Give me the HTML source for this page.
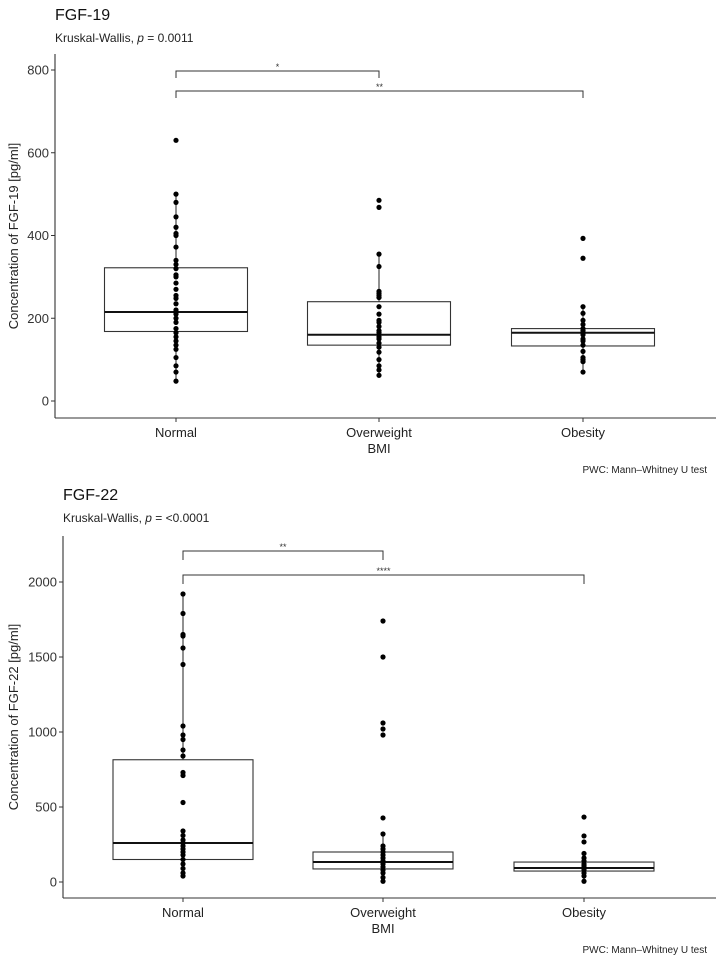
<!DOCTYPE html>
<html><head><meta charset="utf-8">
<style>
html,body{margin:0;padding:0;background:#fff;}
svg{display:block;font-family:"Liberation Sans",Arial,sans-serif;}
</style></head>
<body>
<svg id="chart" width="716" height="962" viewBox="0 0 716 962" xmlns="http://www.w3.org/2000/svg"></svg>
<script>
const categories = ["Normal","Overweight","Obesity"];
// FGF-19
const fgf19Points = [
 [630,500,480,445,420,405,400,372,340,330,320,305,300,285,270,255,248,235,220,215,210,200,190,175,165,155,145,135,125,105,85,70,48],
 [485,468,355,325,265,260,255,250,228,210,195,190,180,170,165,155,150,140,130,118,100,85,75,62],
 [393,345,228,212,195,185,175,170,165,160,150,145,135,120,105,100,95,70]
];
const fgf19Q1 = [168,135,133];
const fgf19Median = [215,160,165];
const fgf19Q3 = [322,240,175];
const fgf19WhiskerLo = [48,62,70];
const fgf19WhiskerHi = [500,355,228];
const fgf19Ticks = [0,200,400,600,800];
// FGF-22
const fgf22Points = [
 [1920,1790,1650,1640,1560,1450,1040,980,950,880,840,730,710,530,340,310,280,260,240,220,200,180,150,120,90,60,40],
 [1740,1500,1060,1020,980,427,320,240,220,200,180,160,140,120,100,80,60,30,5],
 [433,307,267,190,160,140,120,110,100,90,80,60,40,5]
];
const fgf22Q1 = [150,87,73];
const fgf22Median = [260,133,93];
const fgf22Q3 = [815,200,133];
const fgf22WhiskerLo = [40,5,5];
const fgf22WhiskerHi = [1920,320,190];
const fgf22Ticks = [0,500,1000,1500,2000];

const svg = document.getElementById('chart');
const NS = 'http://www.w3.org/2000/svg';
function mk(tag, attrs, parent){
  const e = document.createElementNS(NS, tag);
  for (const k in attrs) e.setAttribute(k, attrs[k]);
  (parent||svg).appendChild(e);
  return e;
}
function txt(s, attrs, parent){ const e = mk('text', attrs, parent); e.textContent = s; return e; }

function panel(cfg){
  const g = mk('g', {});
  
  
  const y = v => cfg.y0 - v * cfg.k;
  const x = i => cfg.xs[i];
  const t = txt(cfg.title, {x: cfg.left, y: cfg.top, 'font-size': 16, fill: '#111'}, g);
  
  
  const st = mk('text', {x: cfg.left, y: cfg.top + 22, 'font-size': 12, fill: '#222'}, g);
  
  
  st.innerHTML = 'Kruskal-Wallis, <tspan font-style="italic">p</tspan> = ' + cfg.p;
  const ax = mk('line', {x1: cfg.axX, y1: cfg.axTop, x2: cfg.axX, y2: cfg.axBot, stroke: '#333', 'stroke-width': 1.1}, g);
  
  
  const bx = mk('line', {x1: cfg.axX, y1: cfg.axBot, x2: 716, y2: cfg.axBot, stroke: '#333', 'stroke-width': 1.1}, g);
  
  
  cfg.ticks.forEach(tv => {
    mk('line', {x1: cfg.axX - 4, x2: cfg.axX, y1: y(tv), y2: y(tv), stroke: '#333'}, g);
    const tl = txt(String(tv), {x: cfg.axX - 6, y: y(tv) + 4.5, 'font-size': 13, 'text-anchor': 'end', fill: '#333'}, g);
    
    
  });
  const yt = txt(cfg.ytitle, {x: 0, y: 0, 'font-size': 13, 'text-anchor': 'middle', fill: '#222', transform: `translate(${cfg.yTitleX},${(cfg.axTop + cfg.axBot) / 2}) rotate(-90)`}, g);
  
  
  categories.forEach((c, i) => {
    mk('line', {x1: x(i), x2: x(i), y1: cfg.axBot, y2: cfg.axBot + 4, stroke: '#333'}, g);
    const cl = txt(c, {x: x(i), y: cfg.axBot + 19, 'font-size': 13, 'text-anchor': 'middle', fill: '#222'}, g);
    
    
    const wk = mk('line', {x1: x(i), x2: x(i), y1: y(cfg.hi[i]), y2: y(cfg.lo[i]), stroke: '#222', 'stroke-width': 1}, g);
    
    
    const bw = cfg.bw;
    const b = mk('rect', {x: x(i) - bw / 2, y: y(cfg.q3[i]), width: bw, height: y(cfg.q1[i]) - y(cfg.q3[i]), fill: '#fff', stroke: '#333', 'stroke-width': 1.1}, g);
    
    
    const m = mk('line', {x1: x(i) - bw / 2, x2: x(i) + bw / 2, y1: y(cfg.med[i]), y2: y(cfg.med[i]), stroke: '#111', 'stroke-width': 2}, g);
    
    
    cfg.pts[i].forEach(v => {
      const d = mk('circle', {cx: x(i), cy: y(v), r: 2.6, fill: '#000'}, g);
      
      
    });
  });
  const bmi = txt('BMI', {x: x(1), y: cfg.axBot + 35, 'font-size': 13, 'text-anchor': 'middle', fill: '#222'}, g);
  
  
  const pwc = txt('PWC: Mann\u2013Whitney U test', {x: 707, y: cfg.axBot + 55, 'font-size': 10, 'text-anchor': 'end', fill: '#222'}, g);
  
  
  cfg.brackets.forEach(br => {
    const x1 = x(br.a), x2 = x(br.b);
    const p = mk('path', {d: `M${x1},${br.y + br.h} V${br.y} H${x2} V${br.y + br.h}`, fill: 'none', stroke: '#333', 'stroke-width': 1}, g);
    
    
    const s = txt(br.label, {x: (x1 + x2) / 2, y: br.y - 1, 'font-size': 9, 'text-anchor': 'middle', fill: '#333'}, g);
    
    
  });
}

panel({name: 'fgf19-panel', title: 'FGF-19', p: '0.0011', left: 55, top: 20,
  axX: 55, axTop: 54, axBot: 418, y0: 401, k: 331 / 800, xs: [176, 379, 583], bw: 143,
  ticks: fgf19Ticks, ytitle: 'Concentration of FGF-19 [pg/ml]', yTitleX: 18,
  pts: fgf19Points, q1: fgf19Q1, med: fgf19Median, q3: fgf19Q3, lo: fgf19WhiskerLo, hi: fgf19WhiskerHi,
  brackets: [{a: 0, b: 1, y: 71, h: 7, label: '*'}, {a: 0, b: 2, y: 91, h: 7, label: '**'}]});

panel({name: 'fgf22-panel', title: 'FGF-22', p: '<0.0001', left: 63, top: 500,
  axX: 63, axTop: 536, axBot: 898, y0: 882, k: 300 / 2000, xs: [183, 383, 584], bw: 140,
  ticks: fgf22Ticks, ytitle: 'Concentration of FGF-22 [pg/ml]', yTitleX: 18,
  pts: fgf22Points, q1: fgf22Q1, med: fgf22Median, q3: fgf22Q3, lo: fgf22WhiskerLo, hi: fgf22WhiskerHi,
  brackets: [{a: 0, b: 1, y: 551, h: 9, label: '**'}, {a: 0, b: 2, y: 575, h: 9, label: '****'}]});
</script>
</body></html>
